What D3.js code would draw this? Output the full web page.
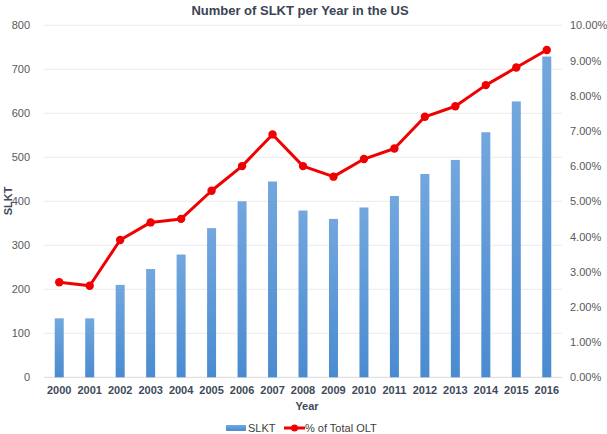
<!DOCTYPE html>
<html><head><meta charset="utf-8">
<script src="https://cdn.jsdelivr.net/npm/d3@7"></script>
<style>body{margin:0;background:#fff}svg{display:block;font-family:"Liberation Sans",Arial,sans-serif}</style>
</head><body><svg id="c" width="607" height="434"></svg>
<script>
const years = ["2000","2001","2002","2003","2004","2005","2006","2007","2008","2009","2010","2011","2012","2013","2014","2015","2016"];
const slkt = [134,134,210,246,279,339,400,445,379,360,386,412,462,494,557,627,729];
const pctOLT = [2.7,2.6,3.9,4.4,4.5,5.3,6.0,6.9,6.0,5.7,6.2,6.5,7.4,7.7,8.3,8.8,9.3];
const leftTicks = [0,100,200,300,400,500,600,700,800];
const rightTicks = [0,1,2,3,4,5,6,7,8,9,10];

const svg = d3.select("#c");
const m = {l:44, r:562, t:25.3, b:377.3};
const x = d3.scaleBand().domain(years).range([m.l, m.r]).paddingInner(0).paddingOuter(0);
const yL = d3.scaleLinear().domain([0,800]).range([m.b, m.t]);
const yR = d3.scaleLinear().domain([0,10]).range([m.b, m.t]);

const defs = svg.append("defs");
const g = defs.append("linearGradient").attr("id","bg").attr("x1",0).attr("y1",0).attr("x2",0).attr("y2",1);
g.append("stop").attr("offset","0%").attr("stop-color","#72a7de");
g.append("stop").attr("offset","100%").attr("stop-color","#4a8bd0");

// gridlines
svg.append("g").selectAll("line").data(leftTicks).join("line")
  .attr("x1",m.l).attr("x2",m.r).attr("y1",d=>yL(d)).attr("y2",d=>yL(d))
  .attr("stroke",d=>d===0?"#d9d9d9":"#ececec").attr("stroke-width",1);

// left axis
const la = svg.append("g").attr("transform",`translate(${m.l},0)`)
  .call(d3.axisLeft(yL).tickValues(leftTicks).tickSize(0).tickPadding(14));
la.select(".domain").remove();
la.selectAll("text").attr("fill","#595959").attr("font-size",11);

// right axis
const ra = svg.append("g").attr("transform",`translate(${m.r},0)`)
  .call(d3.axisRight(yR).tickValues(rightTicks).tickSize(0).tickPadding(8).tickFormat(d=>d.toFixed(2)+"%"));
ra.select(".domain").remove();
ra.selectAll("text").attr("fill","#595959").attr("font-size",11);

// x axis
const xa = svg.append("g").attr("transform",`translate(0,${m.b})`)
  .call(d3.axisBottom(x).tickSize(0).tickPadding(9));
xa.select(".domain").remove();
xa.selectAll("text").attr("fill","#404a5a").attr("font-size",11).attr("font-weight","bold");

// bars
const bw = 9;
svg.append("g").selectAll("rect").data(years).join("rect")
  .attr("x",(d)=>x(d)+x.bandwidth()/2-bw/2).attr("width",bw)
  .attr("y",(d,i)=>yL(slkt[i])).attr("height",(d,i)=>yL(0)-yL(slkt[i]))
  .attr("fill","url(#bg)");

// line
const line = d3.line().x((d,i)=>x(years[i])+x.bandwidth()/2).y(d=>yR(d));
svg.append("path").datum(pctOLT).attr("d",line).attr("fill","none")
  .attr("stroke","#f00000").attr("stroke-width",3).attr("stroke-linejoin","round");
svg.append("g").selectAll("circle").data(pctOLT).join("circle")
  .attr("cx",(d,i)=>x(years[i])+x.bandwidth()/2).attr("cy",d=>yR(d)).attr("r",4.2)
  .attr("fill","#f00000");

// title
svg.append("text").attr("x",300).attr("y",15).attr("text-anchor","middle")
  .attr("font-size",13).attr("font-weight","bold").attr("fill","#3b4455")
  .text("Number of SLKT per Year in the US");

// axis titles
svg.append("text").attr("x",307).attr("y",410).attr("text-anchor","middle")
  .attr("font-size",11).attr("font-weight","bold").attr("fill","#404a5a").text("Year");
svg.append("text").attr("transform","translate(12,201) rotate(-90)").attr("text-anchor","middle")
  .attr("font-size",11).attr("font-weight","bold").attr("fill","#404a5a").text("SLKT");

// legend
const lg = svg.append("g");
lg.append("rect").attr("x",226).attr("y",425).attr("width",20).attr("height",6).attr("fill","url(#bg)");
lg.append("text").attr("x",248).attr("y",432).attr("font-size",11).attr("fill","#404040").text("SLKT");
lg.append("line").attr("x1",284).attr("x2",305).attr("y1",428).attr("y2",428).attr("stroke","#f00000").attr("stroke-width",3);
lg.append("circle").attr("cx",294.5).attr("cy",428).attr("r",3.5).attr("fill","#f00000");
lg.append("text").attr("x",305).attr("y",432).attr("font-size",11).attr("fill","#404040").text("% of Total OLT");
</script></body></html>
